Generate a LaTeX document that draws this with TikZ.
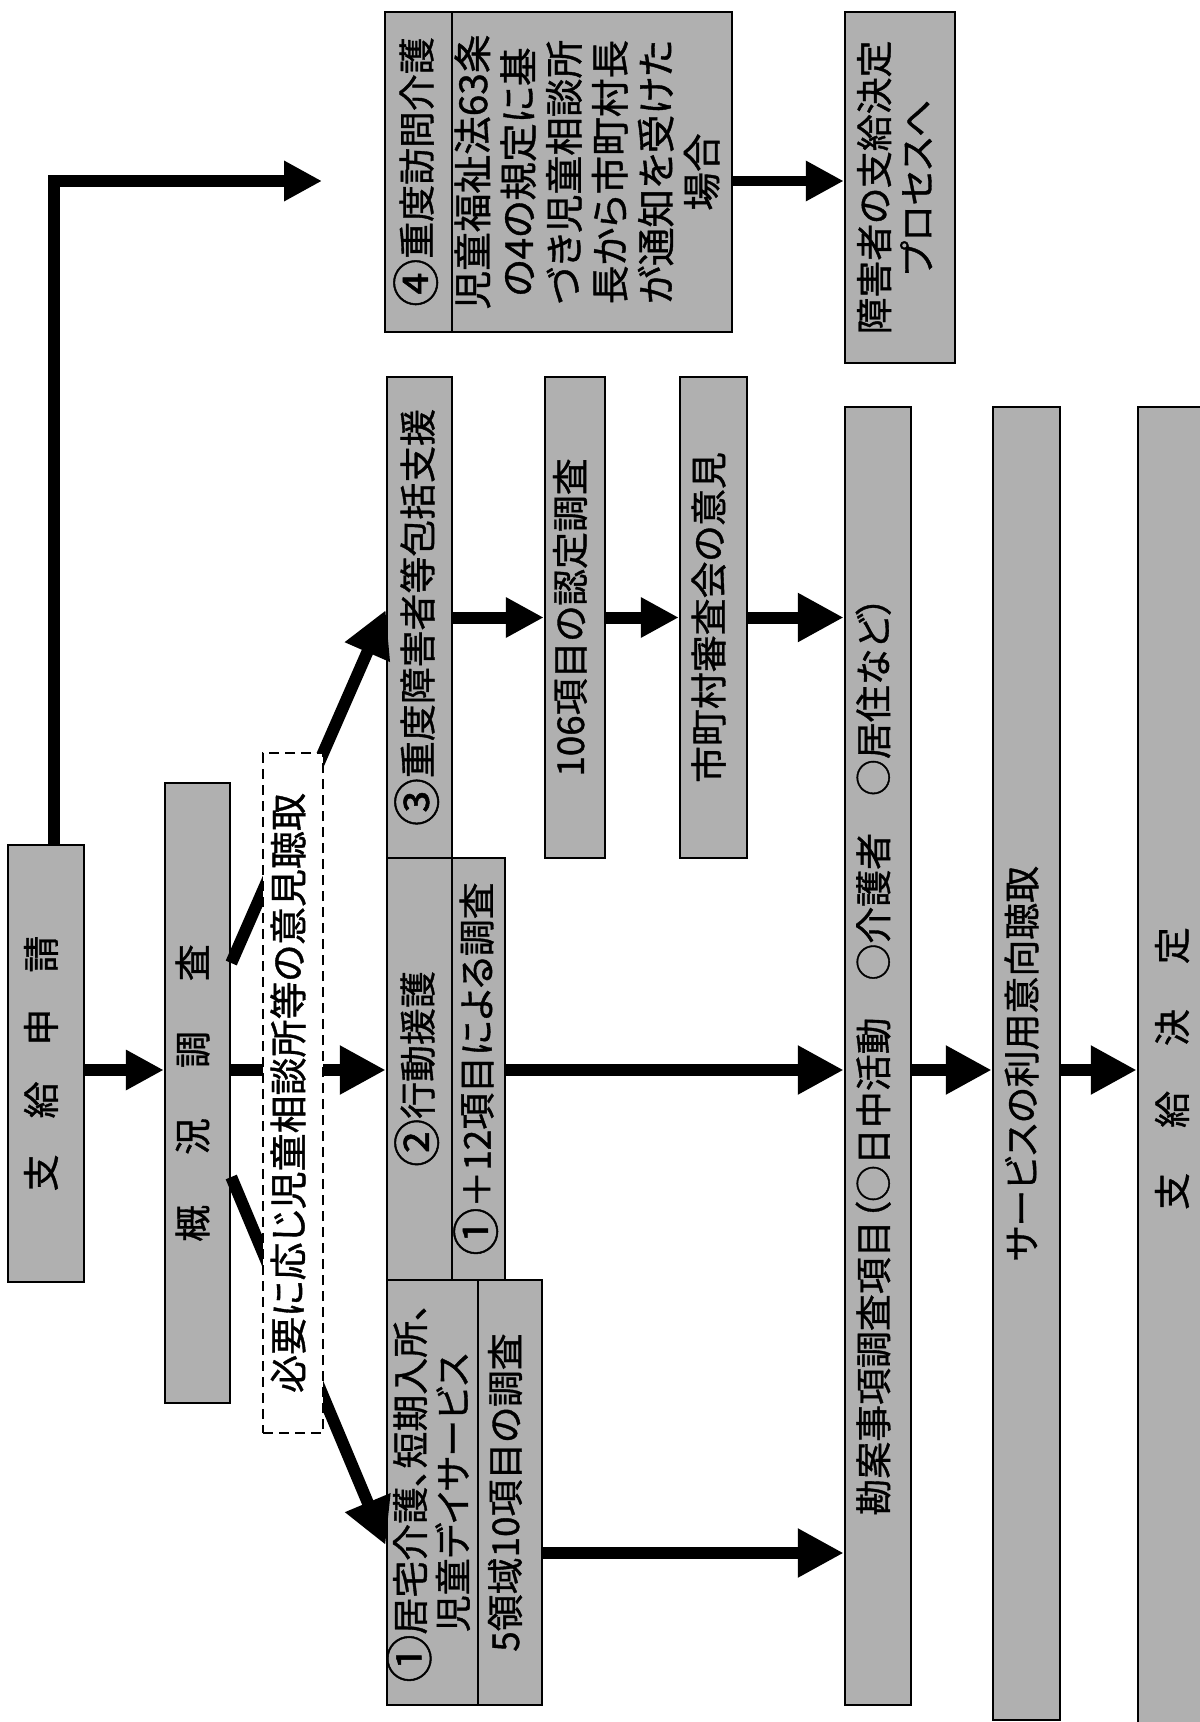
\documentclass[tikz,border=0pt]{standalone}
\usepackage{fontspec}
\setmainfont{Noto Sans CJK JP}[RawFeature={+palt}, FakeBold=1]
\usepackage{graphicx}
\usetikzlibrary{arrows.meta}
\definecolor{boxgray}{gray}{0.69}
\newcommand{\vtxt}[2][1]{\rotatebox{90}{\renewcommand{\arraystretch}{#1}\begin{tabular}{@{}c@{}}#2\end{tabular}}}
\newcommand{\cnum}[1]{\raisebox{-0.09em}{\scalebox{1.3}{#1}}}
\begin{document}
\begin{tikzpicture}[x=0.1mm,y=-0.1mm,
  gbox/.style={draw=black, fill=boxgray, line width=0.25mm, inner sep=0pt, rectangle,
    font=\fontsize{10.5pt}{12.4pt}\selectfont},
  dbox/.style={draw=black, fill=white, line width=0.22mm, dash pattern=on 1mm off 0.6mm,
    inner sep=0pt, rectangle, font=\fontsize{10.8pt}{12.4pt}\selectfont},
  arr/.style={line width=1.2mm, -{Triangle[length=4.6mm,width=4.6mm]}},
  arrs/.style={line width=1.2mm, -{Triangle[length=3.8mm,width=3.8mm]}},
]
\clip (0,0) rectangle (1200,1722);
\fill[white] (0,0) rectangle (1200,1722);

% helper rows
\coordinate (ytop) at (0,181);
\coordinate (ymid) at (0,1070);
\coordinate (ylow) at (0,1553);
\coordinate (yu1) at (0,963);
\coordinate (yu2) at (0,610);
\coordinate (yl1) at (0,1177);
\coordinate (yl2) at (0,1545);
\coordinate (topend) at (322,181);

% boxes
\node[gbox, minimum width=7.6mm, minimum height=43.7mm] (app) at (46,1063.5)
  {\vtxt{支\hspace{3.6mm}給\hspace{3.6mm}申\hspace{3.6mm}請}};
\node[gbox, minimum width=6.5mm, minimum height=62mm] (gaikyo) at (197.5,1093)
  {\vtxt{概\hspace{5mm}況\hspace{5mm}調\hspace{5mm}査}};

\node[gbox, minimum width=6.5mm, minimum height=48.1mm] (b3h) at (419.5,617.5)
  {\vtxt{\cnum{③}重度障害者等包括支援}};
\node[gbox, minimum width=6.5mm, minimum height=42.2mm] (b2h) at (419.5,1069)
  {\vtxt{\cnum{②}行動援護}};
\node[gbox, minimum width=5.3mm, minimum height=42.2mm] (b2s) at (478.5,1069)
  {\vtxt{\cnum{①}＋12項目による調査}};
\node[gbox, minimum width=9.1mm, minimum height=42.5mm] (b1h) at (432.5,1492.5)
  {\vtxt[0.87]{\cnum{①}居宅介護、短期入所、\\児童デイサービス}};
\node[gbox, minimum width=6.4mm, minimum height=42.5mm] (b1s) at (510,1492.5)
  {\vtxt{5領域10項目の調査}};

\node[gbox, minimum width=6.7mm, minimum height=32mm] (b4h) at (418.5,172)
  {\vtxt{\cnum{④}重度訪問介護}};
\node[gbox, minimum width=28mm, minimum height=32mm,
  font=\fontsize{11pt}{12.6pt}\selectfont] (b4b) at (592,172)
  {\vtxt{児童福祉法63条\\の4の規定に基\\づき児童相談所\\長から市町村長\\が通知を受けた\\場合}};

\node[gbox, minimum width=6mm, minimum height=48.1mm] (nintei) at (575,617.5)
  {\vtxt{106項目の認定調査}};
\node[gbox, minimum width=6.7mm, minimum height=48.1mm] (shingikai) at (713.5,617.5)
  {\vtxt{市町村審査会の意見}};

\node[gbox, minimum width=11mm, minimum height=35.1mm] (shogai) at (900,187.5)
  {\vtxt[0.92]{障害者の支給決定\\プロセスへ}};

\node[gbox, minimum width=6.6mm, minimum height=129.8mm] (kanan) at (878,1056)
  {\vtxt{勘案事項調査項目（○日中活動　○介護者　○居住など）}};
\node[gbox, minimum width=6.7mm, minimum height=131.3mm] (service) at (1026.5,1063.5)
  {\vtxt{サービスの利用意向聴取}};
\node[gbox, minimum width=7.8mm, minimum height=132.3mm] (kettei) at (1177,1068.5)
  {\vtxt{支\hspace{4.5mm}給\hspace{4.5mm}決\hspace{4.5mm}定}};

% connectors
\draw[arrs] ([xshift=0.8mm]app.north) |- (topend);
\draw[arrs] (app.east |- ymid) -- (gaikyo.west |- ymid);
\draw[arr] (gaikyo.east |- ymid) -- (b2h.west |- ymid);
\draw[arr] (gaikyo.east |- yu1) -- (b3h.west |- yu2);
\draw[arr] (gaikyo.east |- yl1) -- (b1h.west |- yl2);
\draw[arrs] (b3h) -- (nintei);
\draw[arrs] (nintei) -- (shingikai);
\draw[arr] (shingikai.east) -- (kanan.west |- shingikai.east);
\draw[arr] (b2s.east |- ymid) -- (kanan.west |- ymid);
\draw[arr] (b1s.east |- ylow) -- (kanan.west |- ylow);
\draw[arr] (kanan.east |- ymid) -- (service.west |- ymid);
\draw[arr] (service.east |- ymid) -- (kettei.west |- ymid);
\draw[arrs, line width=1mm] (b4b.east |- ytop) -- (shogai.west |- ytop);

% dashed note over the connectors
\node[dbox, minimum width=6mm, minimum height=68mm] (iken) at (293,1093)
  {\vtxt{必要に応じ児童相談所等の意見聴取}};
\end{tikzpicture}
\end{document}
